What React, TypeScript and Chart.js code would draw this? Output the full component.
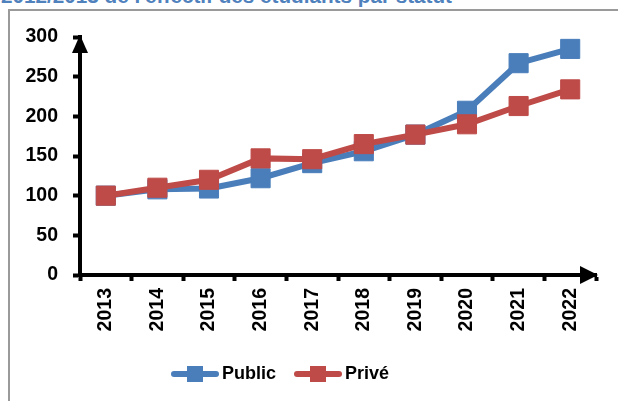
import React, { useEffect, useRef } from 'react';
import { Chart, registerables } from 'chart.js';

Chart.register(...registerables);

const years = ['2013', '2014', '2015', '2016', '2017', '2018', '2019', '2020', '2021', '2022'];
const publicValues = [100, 108, 109, 122, 141, 156, 177, 207, 267, 285];
const priveValues = [100, 110, 120, 147, 146, 165, 177, 190, 213, 234];
const yTickValues = [0, 50, 100, 150, 200, 250, 300];
const seriesNames = ['Public', 'Privé'];
const titleText = "2012/2013 de l'effectif des étudiants par statut";

const BLUE = '#4a7ebb';
const RED = '#be4b48';
const FONT = '"Liberation Sans", Arial, sans-serif';

function makeIcon(color: string) {
  const c = document.createElement('canvas');
  c.width = 48;
  c.height = 20;
  const ctx = c.getContext('2d')!;
  ctx.strokeStyle = color;
  ctx.lineWidth = 6;
  ctx.lineCap = 'round';
  ctx.beginPath();
  ctx.moveTo(3, 10);
  ctx.lineTo(45, 10);
  ctx.stroke();
  ctx.fillStyle = color;
  ctx.fillRect(16, 2, 16, 16);
  return c;
}

const arrowPlugin = {
  id: 'axisArrows',
  afterDraw(chart: any) {
    const { ctx, chartArea } = chart;
    const { left, right, top, bottom } = chartArea;
    ctx.save();
    ctx.fillStyle = '#000';
    ctx.beginPath();
    ctx.moveTo(left, top - 2);
    ctx.lineTo(left - 8, top + 16);
    ctx.lineTo(left + 8, top + 16);
    ctx.closePath();
    ctx.fill();
    ctx.beginPath();
    ctx.moveTo(right + 2, bottom);
    ctx.lineTo(right - 16, bottom - 9);
    ctx.lineTo(right - 16, bottom + 9);
    ctx.closePath();
    ctx.fill();
    ctx.restore();
  },
};

export default function App() {
  const ref = useRef<HTMLCanvasElement>(null);

  useEffect(() => {
    if (!ref.current) return;
    const icons = [makeIcon(BLUE), makeIcon(RED)];
    const chart = new Chart(ref.current, {
      type: 'line',
      data: {
        labels: years,
        datasets: [
          {
            label: seriesNames[0],
            data: publicValues,
            borderColor: BLUE,
            backgroundColor: BLUE,
            borderWidth: 6,
            pointStyle: 'rect',
            pointRadius: 13.5,
            pointBorderWidth: 1,
            pointBackgroundColor: BLUE,
            pointBorderColor: BLUE,
            tension: 0,
            order: 1,
          },
          {
            label: seriesNames[1],
            data: priveValues,
            borderColor: RED,
            backgroundColor: RED,
            borderWidth: 6,
            pointStyle: 'rect',
            pointRadius: 13.5,
            pointBorderWidth: 1,
            pointBackgroundColor: RED,
            pointBorderColor: RED,
            tension: 0,
            order: 0,
          },
        ],
      },
      options: {
        responsive: false,
        animation: false,
        layout: { padding: { left: 0, right: 30, top: 37, bottom: 8 } },
        plugins: {
          tooltip: { enabled: false },
          legend: {
            position: 'bottom',
            align: 'center',
            labels: {
              usePointStyle: true,
              pointStyleWidth: 36,
              padding: 24,
              color: '#000',
              font: { family: FONT, size: 18, weight: 'bold' },
              generateLabels: (ch: any) =>
                ch.data.datasets.map((ds: any, i: number) => ({
                  text: ds.label,
                  fillStyle: ds.backgroundColor,
                  strokeStyle: ds.borderColor,
                  lineWidth: 0,
                  pointStyle: icons[i],
                  hidden: false,
                  datasetIndex: i,
                  fontColor: '#000',
                })),
            },
          },
        },
        scales: {
          x: {
            type: 'category',
            offset: true,
            afterFit: (s: any) => {
              s.height = 66;
            },
            border: { display: true, color: '#000', width: 4 },
            grid: {
              display: true,
              offset: true,
              drawOnChartArea: false,
              drawTicks: true,
              tickLength: 6,
              tickWidth: 4,
              tickColor: '#000',
            },
            ticks: {
              minRotation: 90,
              maxRotation: 90,
              padding: 7,
              color: '#000',
              font: { family: FONT, size: 19.5, weight: 'bold' },
            },
          },
          y: {
            min: 0,
            max: 300,
            afterFit: (s: any) => {
              s.width = 110;
            },
            afterBuildTicks: (s: any) => {
              s.ticks = yTickValues.map((v) => ({ value: v }));
            },
            border: { display: true, color: '#000', width: 4 },
            grid: {
              display: true,
              drawOnChartArea: false,
              drawTicks: true,
              tickLength: 7,
              tickWidth: 4,
              tickColor: '#000',
            },
            ticks: {
              padding: 15,
              color: '#000',
              font: { family: FONT, size: 19.5, weight: 'bold' },
            },
          },
        },
      },
      plugins: [arrowPlugin],
    } as any);
    return () => chart.destroy();
  }, []);

  return (
    <div
      style={{
        position: 'fixed',
        left: 0,
        top: 0,
        width: 618,
        height: 401,
        overflow: 'hidden',
        background: '#fff',
      }}
    >
      <div
        style={{
          position: 'absolute',
          left: 1,
          top: -14,
          whiteSpace: 'nowrap',
          fontFamily: FONT,
          fontWeight: 'bold',
          fontSize: 20.7,
          lineHeight: '20px',
          color: '#4f81bd',
        }}
      >
        {titleText}
      </div>
      <div
        style={{
          position: 'absolute',
          left: 8,
          top: 9,
          width: 700,
          height: 500,
          border: '2px solid #9a9a9a',
          boxSizing: 'border-box',
        }}
      />
      <canvas
        ref={ref}
        width={656}
        height={401}
        style={{ position: 'absolute', left: -30, top: 0, width: 656, height: 401 }}
      />
    </div>
  );
}
